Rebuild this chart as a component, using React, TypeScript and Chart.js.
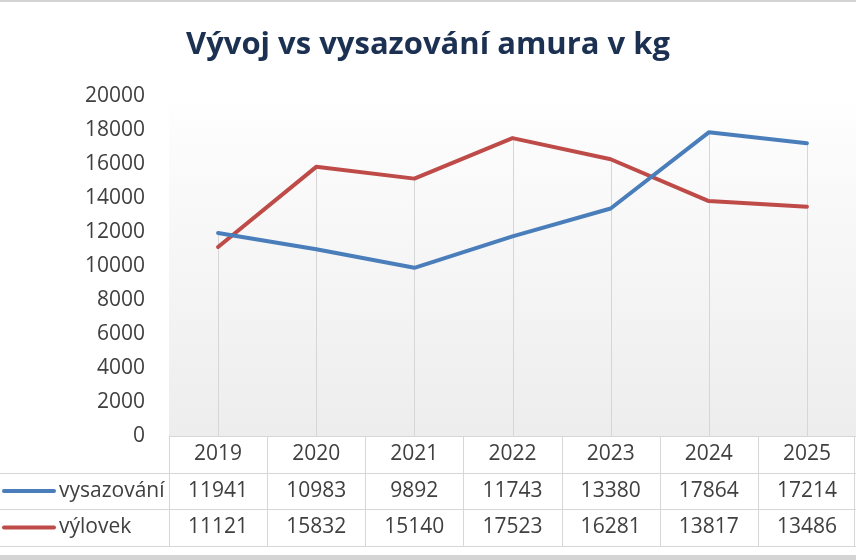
import React, { useEffect, useRef } from 'react';
import { Chart, registerables } from 'chart.js';

Chart.register(...registerables);

const titleText = 'Vývoj vs vysazování amura v kg';
const years = ['2019', '2020', '2021', '2022', '2023', '2024', '2025'];
const vysazovani = [11941, 10983, 9892, 11743, 13380, 17864, 17214];
const vylovek = [11121, 15832, 15140, 17523, 16281, 13817, 13486];
const seriesNames = ['vysazování', 'výlovek'];
const seriesColors = ['#4a7ebb', '#be4b48'];
const yMin = 0;
const yMax = 20000;
const yStep = 2000;

const FONT = "'Open Sans', 'Noto Sans', sans-serif";
const TEXT_COLOR = '#404040';
const LINE_GRAY = '#d6d6d6';

const chartPlugin = {
  id: 'excelDecor',
  beforeDatasetsDraw(chart: any) {
    const { ctx, chartArea, scales } = chart;
    const { left, right, top, bottom } = chartArea;
    ctx.save();
    const g = ctx.createLinearGradient(0, top, 0, bottom);
    g.addColorStop(0, '#ffffff');
    g.addColorStop(0.12, '#fcfcfc');
    g.addColorStop(1, '#ededed');
    ctx.fillStyle = g;
    ctx.fillRect(left, top, right - left, bottom - top);
    // drop lines
    ctx.strokeStyle = LINE_GRAY;
    ctx.lineWidth = 1;
    const ds = chart.data.datasets;
    for (let i = 0; i < years.length; i++) {
      let maxV = -Infinity;
      ds.forEach((d: any) => { maxV = Math.max(maxV, d.data[i]); });
      const px = Math.round(scales.x.getPixelForValue(i)) + 0.5;
      const py = scales.y.getPixelForValue(maxV);
      ctx.beginPath();
      ctx.moveTo(px, py);
      ctx.lineTo(px, bottom);
      ctx.stroke();
    }
    ctx.restore();
  },
  afterDraw(chart: any) {
    const { ctx, chartArea } = chart;
    const { left, right, bottom } = chartArea;
    const W = chart.width;
    const H = chart.height;
    const n = years.length;
    const band = (right - left) / n;
    const rowH = 36.6;
    const r0 = bottom;
    const rows = [r0, r0 + rowH, r0 + 2 * rowH, r0 + 3 * rowH];
    ctx.save();
    // frame bands
    ctx.fillStyle = '#d4d4d4';
    ctx.fillRect(0, 0, W, 2);
    ctx.fillRect(0, H - 5, W, 5);
    // table lines
    ctx.strokeStyle = LINE_GRAY;
    ctx.lineWidth = 1;
    ctx.beginPath();
    ctx.moveTo(left, Math.round(rows[0]) + 0.5);
    ctx.lineTo(right, Math.round(rows[0]) + 0.5);
    for (let k = 1; k < 4; k++) {
      const yy = Math.round(rows[k]) + 0.5;
      ctx.moveTo(0, yy);
      ctx.lineTo(right, yy);
    }
    for (let i = 0; i <= n; i++) {
      const xx = Math.min(Math.round(left + i * band) + 0.5, W - 1.5);
      ctx.moveTo(xx, rows[0]);
      ctx.lineTo(xx, rows[3]);
    }
    ctx.stroke();
    // texts
    ctx.fillStyle = TEXT_COLOR;
    ctx.font = `21px ${FONT}`;
    ctx.textBaseline = 'middle';
    ctx.textAlign = 'center';
    for (let i = 0; i < n; i++) {
      const cx = left + (i + 0.5) * band;
      ctx.fillText(years[i], cx, (rows[0] + rows[1]) / 2);
      chart.data.datasets.forEach((d: any, k: number) => {
        ctx.fillText(String(d.data[i]), cx, (rows[k + 1] + rows[k + 2]) / 2);
      });
    }
    chart.data.datasets.forEach((d: any, k: number) => {
      const cy = (rows[k + 1] + rows[k + 2]) / 2;
      ctx.strokeStyle = d.borderColor;
      ctx.lineWidth = 4;
      ctx.lineCap = 'round';
      ctx.beginPath();
      ctx.moveTo(4, cy);
      ctx.lineTo(54, cy);
      ctx.stroke();
      ctx.textAlign = 'left';
      ctx.fillStyle = TEXT_COLOR;
      ctx.fillText(d.label, 59, cy);
    });
    ctx.restore();
  },
};

export default function App() {
  const ref = useRef<HTMLCanvasElement | null>(null);
  useEffect(() => {
    if (!ref.current) return;
    const chart = new Chart(ref.current, {
      type: 'line',
      data: {
        labels: years,
        datasets: [
          {
            label: seriesNames[0],
            data: vysazovani,
            borderColor: seriesColors[0],
            backgroundColor: seriesColors[0],
            borderWidth: 4,
            pointRadius: 0,
            tension: 0,
            borderJoinStyle: 'round',
            borderCapStyle: 'round',
          },
          {
            label: seriesNames[1],
            data: vylovek,
            borderColor: seriesColors[1],
            backgroundColor: seriesColors[1],
            borderWidth: 4,
            pointRadius: 0,
            tension: 0,
            borderJoinStyle: 'round',
            borderCapStyle: 'round',
          },
        ],
      },
      options: {
        responsive: false,
        animation: false,
        layout: { padding: { left: 0, right: 0, top: 0, bottom: 124 } },
        plugins: {
          legend: { display: false },
          tooltip: { enabled: false },
          title: {
            display: true,
            text: titleText,
            color: '#1c3152',
            font: { family: FONT, size: 31, weight: 'bold', lineHeight: 1.2 },
            padding: { top: 27, bottom: 31.8 },
          },
        },
        scales: {
          x: {
            type: 'category',
            display: false,
            offset: true,
          },
          y: {
            min: yMin,
            max: yMax,
            ticks: {
              stepSize: yStep,
              color: TEXT_COLOR,
              font: { family: FONT, size: 21 },
              padding: 24,
              callback: (v: any) => String(v),
            },
            grid: { display: false, drawTicks: false },
            border: { display: false },
            afterFit: (s: any) => { s.width = 169; },
          },
        },
      },
      plugins: [chartPlugin],
    });
    return () => chart.destroy();
  }, []);
  return (
    <div style={{ position: 'fixed', left: 0, top: 0, width: 856, height: 560, background: '#fff' }}>
      <canvas ref={ref} width={856} height={560} style={{ display: 'block' }} />
    </div>
  );
}
